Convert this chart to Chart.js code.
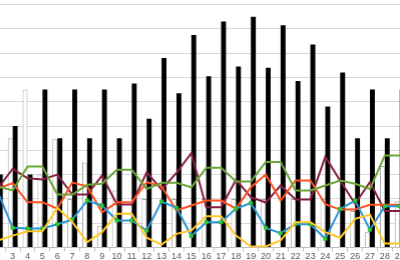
<!DOCTYPE html>
<html lang="en">

<head>
    <meta charset="UTF-8">
    <title>Grafico</title>
    <script src="https://cdn.jsdelivr.net/npm/chart.js"></script>
    <style>
        html, body { margin: 0; padding: 0; background: #fff; overflow: hidden; width: 400px; height: 260px; }
        .recorte { position: absolute; left: -25px; top: 0px; width: 461px; height: 262px; }
    </style>
</head>

<body>
    <div class="recorte" id="recorte">
        <canvas id="grafico"></canvas>
    </div>

<script>
    // categorias (dias) - o 1 e o 2 ficam fora do recorte
    var dias = [];
    for (var i = 1; i <= 30; i++) dias.push(String(i));

    var barrasBrancas = [null, null, 4.5, 6.5, 3.0, 4.45, 2.0, 3.5, 0.9, 2.35, 0, 2.0, 0, 2.0, 0, 2.0, 0, 2.0, 0, 2.0, 0, 2.0, 0, 2.0, 0, 1.5, 0.65, 3.35, 1.9, null];
    var barrasPretas = [null, 3.0, 5.0, 3.0, 6.5, 4.5, 6.5, 4.5, 6.5, 4.5, 6.75, 5.3, 7.8, 6.35, 8.75, 7.05, 9.3, 7.45, 9.5, 7.4, 9.15, 6.85, 8.35, 5.8, 7.2, 4.5, 6.5, 4.5, 6.5, null];

    var linhaLaranja = [null, 2.43, 2.65, 1.86, 1.86, 1.6, 2.67, 2.52, 1.45, 1.86, 1.86, 2.69, 2.52, 1.52, 1.73, 1.93, 1.93, 1.6, 2.48, 3.0, 1.93, 2.76, 2.76, 1.78, 1.56, 1.56, 1.76, 1.76, 1.76, 1.78];
    var linhaVinho = [null, 2.43, 3.24, 2.85, 2.80, 3.00, 2.18, 2.18, 2.96, 1.77, 1.77, 3.09, 2.39, 3.07, 3.88, 1.66, 1.66, 2.79, 2.07, 1.85, 2.55, 1.98, 1.98, 3.74, 2.75, 1.80, 2.69, 1.50, 1.50, 1.50];
    var linhaVerde = [null, 2.51, 2.35, 3.33, 3.33, 2.18, 2.18, 2.58, 2.62, 3.20, 3.20, 2.41, 2.66, 2.66, 2.48, 3.28, 3.28, 2.72, 2.72, 3.52, 3.52, 2.35, 2.35, 2.55, 2.76, 2.62, 2.41, 3.79, 3.79, 3.79];
    var linhaAzul = [null, 2.28, 0.81, 0.78, 0.78, 0.96, 1.15, 1.93, 1.73, 1.11, 1.11, 0.70, 1.89, 1.63, 0.47, 1.04, 1.04, 1.60, 1.83, 0.81, 0.59, 0.97, 0.96, 0.36, 1.59, 1.93, 0.73, 1.70, 1.70, 1.70];
    var linhaAmarela = [null, 0.29, 0.49, 0.67, 0.67, 1.63, 1.05, 0.22, 0.63, 1.39, 1.39, 0.40, 0.12, 0.56, 0.70, 1.29, 1.29, 0.49, 0.04, 0.04, 0.29, 1.04, 1.04, 0.63, 0.40, 1.18, 1.35, 0.16, 0.16, 0.16];

    // area do grafico desejada na janela (px)
    var areaEsq = -24.4, areaDir = 421.1, areaTopo = 4, areaBase = 247;

    function linha(dados, cor, extra) {
        var ds = {
            type: 'line',
            data: dados,
            borderColor: cor,
            borderWidth: 2,
            pointRadius: 0,
            tension: 0,
            order: 1
        };
        return Object.assign(ds, extra || {});
    }

    const ctx = document.getElementById('grafico').getContext('2d');
    const grafico = new Chart(ctx, {
        type: 'bar',
        data: {
            labels: dias,
            datasets: [
                {
                    data: barrasBrancas,
                    backgroundColor: '#ffffff',
                    borderColor: '#a6a6a6',
                    borderWidth: 1,
                    categoryPercentage: 0.66,
                    barPercentage: 1,
                    order: 2
                },
                {
                    data: barrasPretas,
                    backgroundColor: '#000000',
                    categoryPercentage: 0.66,
                    barPercentage: 1,
                    order: 2
                },
                linha(linhaAmarela, '#ffc72c'),
                linha(linhaAzul, '#2b96d8', {
                    pointRadius: 2.5,
                    pointStyle: 'rect',
                    pointBackgroundColor: '#2fd12f',
                    pointBorderColor: '#1e9e1e',
                    pointBorderWidth: 0.5
                }),
                linha(linhaVerde, '#6aa63a'),
                linha(linhaLaranja, '#ff5220'),
                linha(linhaVinho, '#861f40')
            ]
        },
        options: {
            responsive: true,
            maintainAspectRatio: false,
            animation: false,
            layout: { padding: { top: 4, left: 0, right: 0, bottom: 0 } },
            plugins: {
                legend: { display: false },
                tooltip: { enabled: false }
            },
            scales: {
                x: {
                    offset: true,
                    grid: {
                        display: true,
                        drawOnChartArea: false,
                        drawTicks: true,
                        tickLength: 4,
                        color: '#bfbfbf',
                        offset: true
                    },
                    border: { display: true, color: '#bfbfbf' },
                    ticks: {
                        autoSkip: false,
                        maxRotation: 0,
                        padding: 0,
                        color: '#595959',
                        font: { family: 'Liberation Sans', size: 9 }
                    }
                },
                y: {
                    min: 0,
                    max: 10,
                    afterFit: function (escala) { escala.width = 0; },
                    ticks: { display: false, stepSize: 1 },
                    grid: { color: '#d9d9d9', drawTicks: false },
                    border: { display: false }
                }
            }
        }
    });

    // encaixa a area do grafico no recorte da imagem
    function ajustar() {
        var caixa = document.getElementById('recorte');
        var a = grafico.chartArea;
        var larg = caixa.clientWidth;
        var alt = caixa.clientHeight;
        caixa.style.width = (larg + (areaDir - areaEsq) - (a.right - a.left)) + 'px';
        caixa.style.height = (alt + (areaBase - areaTopo) - (a.bottom - a.top)) + 'px';
        caixa.style.left = (areaEsq - a.left) + 'px';
        caixa.style.top = (areaTopo - a.top) + 'px';
        grafico.resize();
    }
    ajustar();
    ajustar();
    ajustar();
</script>
</body>

</html>
